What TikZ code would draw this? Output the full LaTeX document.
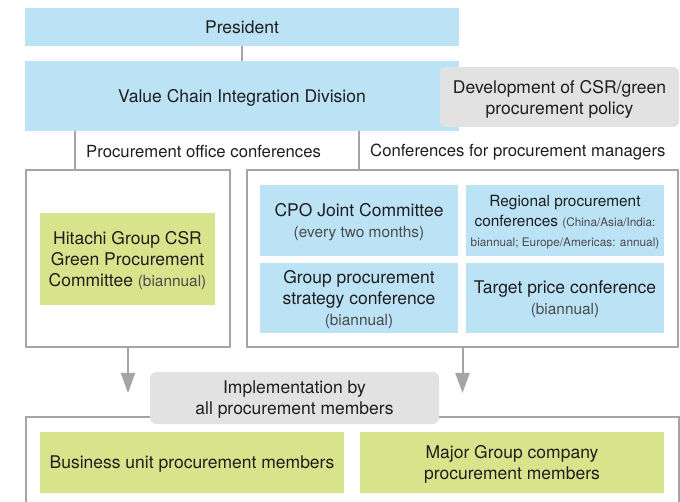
\documentclass[tikz,border=0pt]{standalone}
\usepackage{fontspec}
\setmainfont{TeX Gyre Heros}
\usetikzlibrary{arrows.meta}
\definecolor{boxblue}{RGB}{188,226,246}
\definecolor{boxgreen}{RGB}{216,228,140}
\definecolor{boxgray}{RGB}{226,226,226}
\definecolor{linegray}{RGB}{165,165,165}
\definecolor{textdark}{RGB}{30,30,30}
\definecolor{textsoft}{RGB}{75,75,75}
\newcommand{\fs}[2]{\fontsize{#1}{#2}\selectfont}
\newcommand{\paren}[1]{{\color{textsoft}\fs{15.4}{21}#1}}
\begin{document}
\begin{tikzpicture}[x=1pt, y=-1pt,
    bluebox/.style={fill=boxblue, draw=none, align=center, text=textdark,
        font=\fs{17.5}{21}, inner sep=0pt, text depth=-4pt},
    greenbox/.style={fill=boxgreen, draw=none, align=center, text=textdark,
        font=\fs{17.5}{21}, inner sep=0pt, text depth=-4pt},
    graybox/.style={fill=boxgray, draw=none, rounded corners=6pt, align=center,
        text=textdark, font=\fs{17.5}{21}, inner sep=0pt, text depth=-4pt},
    framebox/.style={draw=linegray, line width=1.3pt, fill=none, inner sep=0pt},
    link/.style={draw=linegray, line width=2pt},
    arr/.style={link, -{Triangle[length=20pt, width=14pt]}},
    lbl/.style={anchor=west, text=textdark, font=\fs{16.7}{21}, inner sep=0pt}]
    \useasboundingbox (0,0) rectangle (680,502);

    % top of the chart
    \node[bluebox, minimum width=434, minimum height=38] (pres) at (242,27) {President};
    \node[bluebox, minimum width=434, minimum height=70] (vcid) at (242,96) {Value Chain Integration Division};
    \node[graybox, minimum width=239, minimum height=60] (policy) at (559.5,97)
        {Development of CSR/green\\procurement policy};
    \draw[link] (pres) -- (vcid);

    % conference frames
    \node[framebox, minimum width=204, minimum height=177] (leftbox) at (128,258.5) {};
    \node[framebox, minimum width=431, minimum height=177] (rightbox) at (462.5,258.5) {};
    \coordinate (lnkA) at (75,150);
    \coordinate (lnkB) at (359,150);
    \draw[link] (lnkA |- vcid.south) -- (lnkA |- leftbox.north);
    \draw[link] (lnkB |- vcid.south) -- (lnkB |- rightbox.north);
    \node[lbl] (officeconf) at (86,152) {Procurement office conferences};
    \node[lbl] (managerconf) at (370,152) {Conferences for procurement managers};

    \node[greenbox, minimum width=175, minimum height=92] (hitachi) at (127.5,259)
        {Hitachi Group CSR\\Green Procurement\\Committee \paren{(biannual)}};
    \node[bluebox, minimum width=198, minimum height=71] (cpo) at (359,220.5)
        {CPO Joint Committee\\\paren{(every two months)}};
    \node[bluebox, minimum width=198, minimum height=71, font=\fs{15.4}{20}] (regional) at (565,220.5)
        {Regional procurement\\conferences {\color{textsoft}\fs{11.8}{20}(China/Asia/India:}\\
         {\color{textsoft}\fs{11.8}{20}biannual; Europe/Americas: annual)}};
    \node[bluebox, minimum width=198, minimum height=70] (groupstrat) at (359,298)
        {Group procurement\\strategy conference\\\paren{(biannual)}};
    \node[bluebox, minimum width=198, minimum height=70] (target) at (565,298)
        {Target price conference\\\paren{(biannual)}};

    % arrows down to the members
    \coordinate (arrL) at (128,393);
    \coordinate (arrR) at (462.5,393);
    \draw[arr] (leftbox.south) -- (arrL);
    \draw[arr] (rightbox.south) -- (arrR);

    % members frame, open at the bottom
    \draw[draw=linegray, line width=1.3pt] (26,505) -- (26,417) -- (679,417) -- (679,505);
    \node[graybox, minimum width=289, minimum height=52] (impl) at (294.5,398)
        {Implementation by\\all procurement members};
    \node[greenbox, minimum width=304, minimum height=61] (business) at (192,462.5)
        {Business unit procurement members};
    \node[greenbox, minimum width=304, minimum height=61] (major) at (512,462.5)
        {Major Group company\\procurement members};
\end{tikzpicture}
\end{document}
